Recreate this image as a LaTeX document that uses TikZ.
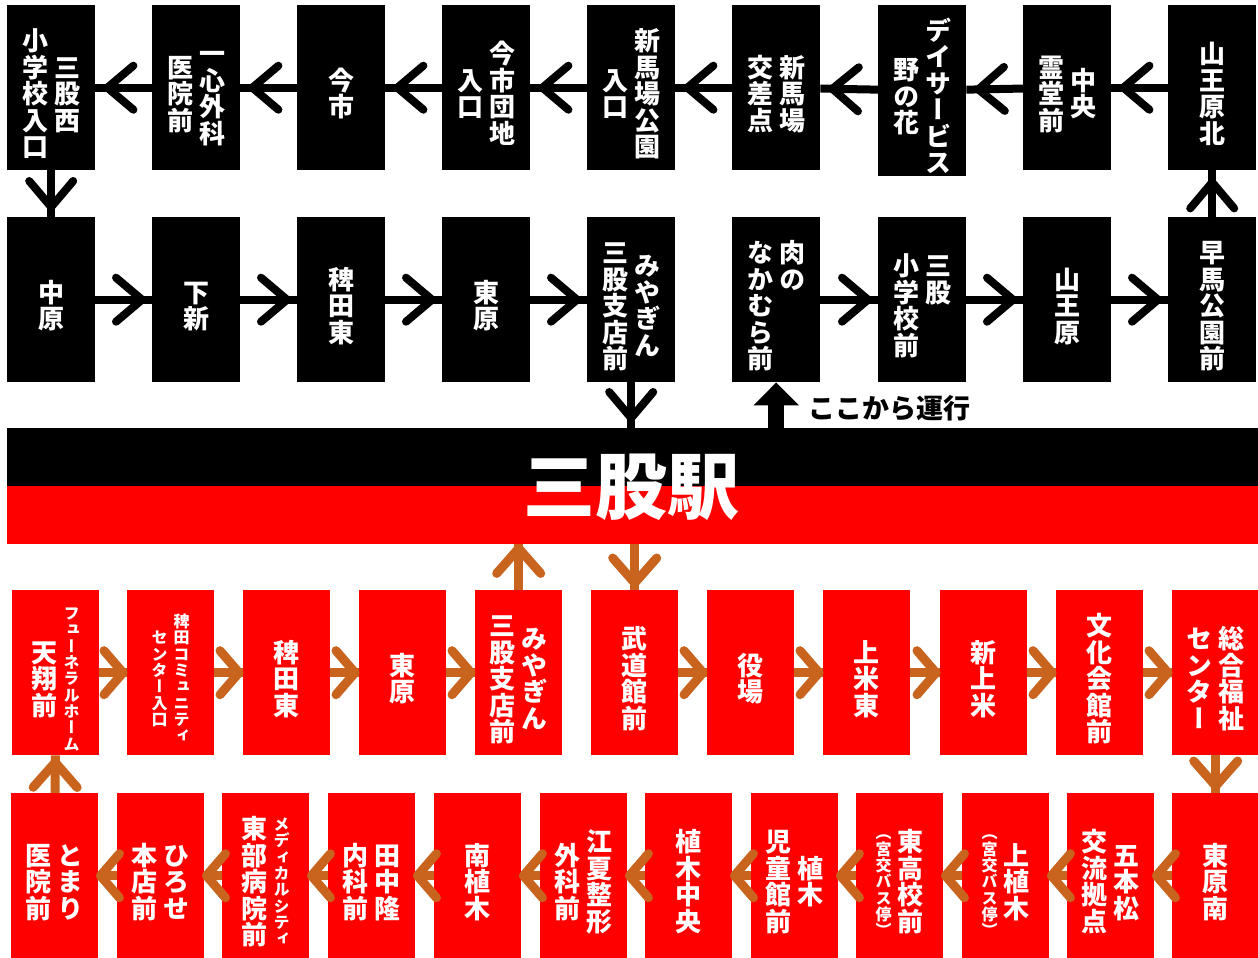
\documentclass[tikz,border=0pt]{standalone}
\usepackage{fontspec}
\usetikzlibrary{calc,decorations.markings,arrows.meta}
\newfontfamily\jp{Noto Sans CJK JP}[RawFeature={+vert}]
\newfontfamily\jph{Noto Sans CJK JP}
\definecolor{myred}{RGB}{255,0,0}
\definecolor{mybrown}{RGB}{200,100,30}
\newdimen\toff \toff=12pt
\def\vchars#1{\ifx\relax#1\else\hbox to 1em{\hss\smash{#1}\hss\vrule height .88em depth .12em width 0pt}\expandafter\vchars\fi}
\def\szL{\fontsize{26pt}{26pt}\selectfont}
\def\szS{\fontsize{16pt}{16pt}\selectfont}
\newcommand\col[2][L]{$\vcenter{\hbox{\csname sz#1\endcsname\vbox{\kern\toff\baselineskip=1.02em\lineskip=0pt\lineskiplimit=-\maxdimen\vchars#2\relax}}}$}
\newcommand\tw[4]{\col[#3]{#4}\kern6pt\col[#1]{#2}}
\tikzset{
  box/.style={anchor=north west, inner sep=0pt, minimum height=165pt, text=white, font=\jp\bfseries},
  bbox/.style={box, fill=black, minimum width=88pt},
  rbox/.style={box, fill=myred, minimum width=87pt},
  barr/.style={line width=8pt, draw=black, postaction={decorate},
    decoration={markings, mark=at position -#1 with {\draw[black,line width=8pt,line cap=round,line join=round] (-26pt,22pt) -- (0pt,0pt) -- (-26pt,-22pt);}}},
  rarr/.style={line width=9pt, draw=mybrown, postaction={decorate},
    decoration={markings, mark=at position -#1 with {\draw[mybrown,line width=9pt,line cap=round,line join=round] (-19pt,22pt) -- (0pt,0pt) -- (-19pt,-22pt);}}},
  rvarr/.style={line width=9pt, draw=mybrown, postaction={decorate},
    decoration={markings, mark=at position -#1 with {\draw[mybrown,line width=9pt,line cap=round,line join=round] (-25pt,22pt) -- (0pt,0pt) -- (-25pt,-22pt);}}},
}
\begin{document}
\begin{tikzpicture}[x=1pt,y=-1pt]
\useasboundingbox (0,0) rectangle (1258,958);
% row 1
\node[bbox] (a1) at (7,5) {\tw L{三股西}L{小学校入口}};
\node[bbox] (a2) at (152,5) {\tw L{一心外科}L{医院前}};
\node[bbox] (a3) at (297,5) {\col{今市}};
\node[bbox] (a4) at (442,5) {\tw L{今市団地}L{入口}};
\node[bbox] (a5) at (587,5) {\tw L{新馬場公園}L{入口}};
\node[bbox] (a6) at (732,5) {\tw L{新馬場}L{交差点}};
\node[bbox] (a7) at (878,5) {\tw L{デイサービス}L{野の花}};
\node[bbox] (a8) at (1023,5) {\tw L{中央}L{霊堂前}};
\node[bbox] (a9) at (1168,5) {\col{山王原北}};
% row 2
\node[bbox] (b1) at (7,217) {\col{中原}};
\node[bbox] (b2) at (152,217) {\col{下新}};
\node[bbox] (b3) at (297,217) {\col{稗田東}};
\node[bbox] (b4) at (442,217) {\col{東原}};
\node[bbox] (b5) at (587,217) {\tw L{みやぎん}L{三股支店前}};
\node[bbox] (b6) at (732,217) {\tw L{肉の　　　}L{なかむら前}};
\node[bbox] (b7) at (878,217) {\tw L{三股　　}L{小学校前}};
\node[bbox] (b8) at (1023,217) {\col{山王原}};
\node[bbox] (b9) at (1168,217) {\col{早馬公園前}};
% station
\node[fill=black, anchor=north west, inner sep=0pt, minimum width=1251pt, minimum height=58pt] (stn) at (7,428) {};
\node[fill=myred, anchor=north west, inner sep=0pt, minimum width=1251pt, minimum height=58pt] (stnr) at (7,486) {};
\node[text=white, inner sep=0pt, font=\jph\bfseries\fontsize{72pt}{72pt}\selectfont] (stname) at (631,487) {三股駅};
\node[text=black, inner sep=0pt, font=\jph\bfseries\fontsize{27pt}{27pt}\selectfont] (start) at (889,408) {ここから運行};
% row 3
\node[rbox] (c1) at (12,590) {\tw S{フューネラルホーム}L{天翔前}};
\node[rbox] (c2) at (127,590) {\tw S{稗田コミュニティ}S{センター入口}};
\node[rbox] (c3) at (243,590) {\col{稗田東}};
\node[rbox] (c4) at (359,590) {\col{東原}};
\node[rbox] (c5) at (475,590) {\tw L{みやぎん}L{三股支店前}};
\node[rbox] (c6) at (591,590) {\col{武道館前}};
\node[rbox] (c7) at (707,590) {\col{役場}};
\node[rbox] (c8) at (823,590) {\col{上米東}};
\node[rbox] (c9) at (940,590) {\col{新上米}};
\node[rbox] (c10) at (1056,590) {\col{文化会館前}};
\node[rbox] (c11) at (1172,590) {\tw L{総合福祉}L{センター}};
% row 4
\node[rbox] (d1) at (11,793) {\tw L{とまり}L{医院前}};
\node[rbox] (d2) at (117,793) {\tw L{ひろせ}L{本店前}};
\node[rbox] (d3) at (222,793) {\tw S{メディカルシティ}L{東部病院前}};
\node[rbox] (d4) at (328,793) {\tw L{田中隆}L{内科前}};
\node[rbox] (d5) at (434,793) {\col{南植木}};
\node[rbox] (d6) at (540,793) {\tw L{江夏整形}L{外科前}};
\node[rbox] (d7) at (645,793) {\col{植木中央}};
\node[rbox] (d8) at (751,793) {\tw L{植木}L{児童館前}};
\node[rbox] (d9) at (856,793) {\tw L{東高校前}S{（宮交バス停）}};
\node[rbox] (d10) at (962,793) {\tw L{上植木}S{（宮交バス停）}};
\node[rbox] (d11) at (1067,793) {\tw L{五本松}L{交流拠点}};
\node[rbox] (d12) at (1172,793) {\col{東原南}};
% black connectors
\draw[barr=12pt] (a9) -- (a8);
\draw[barr=12pt] (a8) -- (a7);
\draw[barr=12pt] (a7) -- (a6);
\draw[barr=12pt] (a6) -- (a5);
\draw[barr=12pt] (a5) -- (a4);
\draw[barr=12pt] (a4) -- (a3);
\draw[barr=12pt] (a3) -- (a2);
\draw[barr=12pt] (a2) -- (a1);
\draw[barr=10pt] (a1) -- (b1);
\draw[barr=10pt] (b1) -- (b2);
\draw[barr=10pt] (b2) -- (b3);
\draw[barr=10pt] (b3) -- (b4);
\draw[barr=10pt] (b4) -- (b5);
\draw[barr=10pt] (b6) -- (b7);
\draw[barr=10pt] (b7) -- (b8);
\draw[barr=10pt] (b8) -- (b9);
\draw[barr=12pt] (b9) -- (a9);
\draw[barr=10pt] (b5.south) -- (b5.south |- stn.north);
\draw[line width=16pt, -{Triangle[length=23pt,width=44pt]}] (stn.north -| b6.south) -- (b6.south);
% red connectors
\draw[rarr=4pt] (c1) -- (c2);
\draw[rarr=4pt] (c2) -- (c3);
\draw[rarr=4pt] (c3) -- (c4);
\draw[rarr=4pt] (c4) -- (c5);
\draw[rvarr=4pt] (c5.north) -- (c5.north |- stnr.south);
\draw[rvarr=7pt] (c6.north |- stnr.south) -- (c6.north);
\draw[rarr=4pt] (c6) -- (c7);
\draw[rarr=4pt] (c7) -- (c8);
\draw[rarr=4pt] (c8) -- (c9);
\draw[rarr=4pt] (c9) -- (c10);
\draw[rarr=4pt] (c10) -- (c11);
\draw[rvarr=7pt] (c11) -- (d12);
\draw[rarr=2pt] (d12) -- (d11);
\draw[rarr=2pt] (d11) -- (d10);
\draw[rarr=2pt] (d10) -- (d9);
\draw[rarr=2pt] (d9) -- (d8);
\draw[rarr=2pt] (d8) -- (d7);
\draw[rarr=2pt] (d7) -- (d6);
\draw[rarr=2pt] (d6) -- (d5);
\draw[rarr=2pt] (d5) -- (d4);
\draw[rarr=2pt] (d4) -- (d3);
\draw[rarr=2pt] (d3) -- (d2);
\draw[rarr=2pt] (d2) -- (d1);
\draw[rvarr=7pt] (d1) -- (c1);
\end{tikzpicture}
\end{document}
